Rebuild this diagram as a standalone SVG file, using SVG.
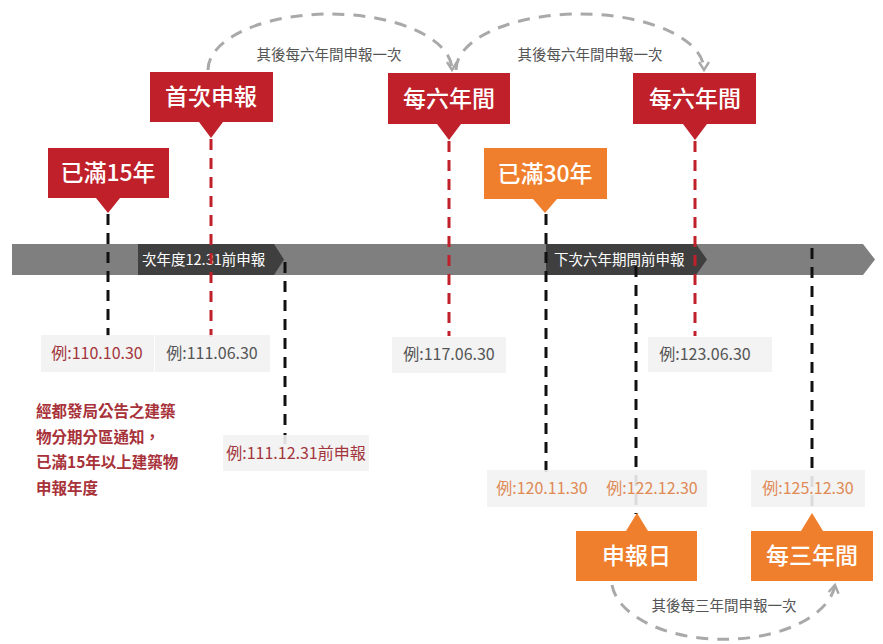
<svg xmlns="http://www.w3.org/2000/svg" width="883" height="644" viewBox="0 0 883 644">
<defs>
<marker id="chev" viewBox="0 0 12 12" refX="10" refY="6" markerWidth="12" markerHeight="12" markerUnits="userSpaceOnUse" orient="auto">
<polyline points="2,1 10,6 2,11" fill="none" stroke="#a9a9a9" stroke-width="2.4"/>
</marker>
</defs>
<style>
text{font-family:"Noto Sans CJK TC","Liberation Sans",sans-serif}
.red{fill:#c0202a}
.org{fill:#ef7f2c}
.ct{fill:#fff;font-size:23px;font-weight:500;text-anchor:middle}
.lbl{fill:#f2f2f2;fill-opacity:0.9}
.dt{font-size:16px;text-anchor:middle}
.gr{fill:#555}
.rd{fill:#a3363c}
.og{fill:#e08a56}
.vb{stroke:#111;stroke-width:3;stroke-dasharray:11 8;fill:none}
.vr{stroke:#c0202a;stroke-width:3;stroke-dasharray:11 8;fill:none}
.arc{stroke:#a9a9a9;stroke-width:3;stroke-dasharray:12 9;fill:none;marker-end:url(#chev)}
.at{fill:#555;font-size:14.5px;text-anchor:middle}
.bt{fill:#fff;font-size:14.5px}
.note{fill:#a8323a;font-size:15.5px;font-weight:700}
</style>
<rect width="883" height="644" fill="#fff"/>

<g id="timeline">
<path d="M12,244 H863 L875,259.5 L863,275 H12 Z" fill="#7f7f7f"/>
<path d="M138,244 H274 L284,259.5 L274,275 H138 Z" fill="#3f3f3f"/>
<text class="bt" x="142" y="265">次年度12.31前申報</text>
<path d="M546,244 H696 L707,259.5 L696,275 H546 Z" fill="#3f3f3f"/>
<text class="bt" x="554" y="265">下次六年期間前申報</text>
</g>

<g id="connectors">
<line class="vb" x1="108" y1="214" x2="108" y2="336"/>
<line class="vr" x1="211" y1="139" x2="211" y2="337"/>
<line class="vb" x1="285" y1="262" x2="285" y2="449"/>
<line class="vr" x1="449" y1="141" x2="449" y2="336"/>
<line class="vb" x1="546" y1="214" x2="546" y2="474"/>
<line class="vb" x1="636" y1="266" x2="636" y2="514"/>
<line class="vr" x1="695" y1="141" x2="695" y2="336"/>
<line class="vb" x1="812" y1="248" x2="812" y2="514"/>
<path class="arc" d="M208,70 A122,56 0 0 1 452,70"/>
<path class="arc" d="M456,70 A124,56 0 0 1 704,70"/>
<path class="arc" d="M612,585 A112,60 0 0 0 835,585"/>
<text class="at" x="329" y="60">其後每六年間申報一次</text>
<text class="at" x="590" y="60">其後每六年間申報一次</text>
<text class="at" x="724" y="611">其後每三年間申報一次</text>
</g>

<g id="n-15">
<path class="red" d="M48,148 H169 V198 H120 L108,213 L96,198 H48 Z"/>
<text class="ct" x="108" y="181">已滿15年</text>
</g>
<g id="n-first">
<path class="red" d="M150,72 H273 V122 H223 L211,138 L199,122 H150 Z"/>
<text class="ct" x="211" y="105">首次申報</text>
</g>
<g id="n-six1">
<path class="red" d="M388,73 H510 V124 H461 L449,140 L437,124 H388 Z"/>
<text class="ct" x="449" y="107">每六年間</text>
</g>
<g id="n-six2">
<path class="red" d="M633,73 H756 V124 H707 L695,140 L683,124 H633 Z"/>
<text class="ct" x="695" y="107">每六年間</text>
</g>
<g id="n-30">
<path class="org" d="M484,148 H607 V199 H557 L545,213 L533,199 H484 Z"/>
<text class="ct" x="545" y="182">已滿30年</text>
</g>
<g id="n-day">
<path class="org" d="M576,531 H626 L637,513 L648,531 H697 V581 H576 Z"/>
<text class="ct" x="636.5" y="564">申報日</text>
</g>
<g id="n-three">
<path class="org" d="M751,531 H801 L812,513 L823,531 H873 V581 H751 Z"/>
<text class="ct" x="812" y="564">每三年間</text>
</g>

<g id="d-110">
<rect class="lbl" x="41" y="335" width="113" height="37"/>
<text class="dt rd" x="97" y="359">例:110.10.30</text>
</g>
<g id="d-111">
<rect class="lbl" x="155" y="335" width="115" height="37"/>
<text class="dt gr" x="212" y="359">例:111.06.30</text>
</g>
<g id="d-117">
<rect class="lbl" x="392" y="337" width="114" height="36"/>
<text class="dt gr" x="449" y="360">例:117.06.30</text>
</g>
<g id="d-123">
<rect class="lbl" x="648" y="337" width="124" height="35"/>
<text class="dt gr" x="705" y="360">例:123.06.30</text>
</g>
<g id="d-111-12">
<rect class="lbl" x="223" y="435" width="146" height="36"/>
<text class="dt rd" x="296" y="459">例:111.12.31前申報</text>
</g>
<g id="d-120">
<rect class="lbl" x="487" y="470" width="110" height="37"/>
<text class="dt og" x="542" y="494">例:120.11.30</text>
</g>
<g id="d-122">
<rect class="lbl" x="597" y="470" width="110" height="37"/>
<text class="dt og" x="652" y="494">例:122.12.30</text>
</g>
<g id="d-125">
<rect class="lbl" x="751" y="470" width="114" height="37"/>
<text class="dt og" x="808" y="494">例:125.12.30</text>
</g>

<g id="note">
<text class="note" x="36" y="417">經都發局公告之建築</text>
<text class="note" x="36" y="443">物分期分區通知，</text>
<text class="note" x="36" y="468">已滿15年以上建築物</text>
<text class="note" x="36" y="494">申報年度</text>
</g>
</svg>
